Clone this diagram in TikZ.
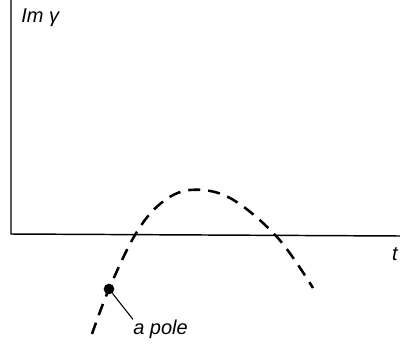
\documentclass[tikz,border=0pt]{standalone}
\usepackage{fontspec}
\setmainfont{Liberation Sans}
\usetikzlibrary{positioning}

\tikzset{
	axisline/.style={line width=1.1pt},
	trajline/.style={line width=1.9pt, dash pattern=on 9pt off 6pt},
	lbl/.style={font=\fontsize{15}{17}\selectfont\itshape, inner sep=0pt}
}

\begin{document}
\begin{tikzpicture}[x=0.75pt, y=-0.75pt]
	\useasboundingbox (0,0) rectangle (400,343);
	% axes
	\coordinate (origin) at (11,234);
	\coordinate (ytop) at (11,0);
	\coordinate (xend) at (400,236);
	\draw[axisline] (ytop) -- (origin) -- (xend);
	\node[lbl, anchor=north west] (ylabel) at (21,8) {Im γ};
	\node[lbl, anchor=north east] (xlabel) at (398,247) {t};
	% trajectory
	\draw[trajline] plot[smooth, tension=0.6] coordinates
		{(92,334) (109,289) (135,235) (160,204) (190,190) (230,198) (277,237) (313,288)};
	% the pole
	\node[circle, fill, inner sep=0pt, minimum size=8pt] (pole) at (109,289) {};
	\node[lbl, anchor=west] (polelabel) at (133,329) {a pole};
	\draw[line width=0.8pt] (pole) -- (polelabel.north west);
\end{tikzpicture}
\end{document}
